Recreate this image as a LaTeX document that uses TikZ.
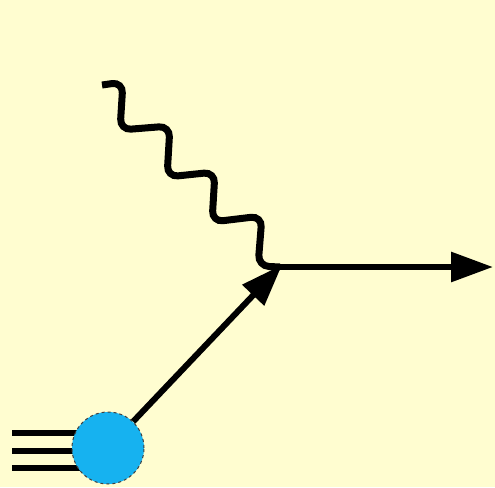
\documentclass[tikz,border=0pt]{standalone}
\usetikzlibrary{arrows.meta}
\definecolor{bgyellow}{RGB}{255,253,208}
\definecolor{blobcyan}{RGB}{22,178,240}
\begin{document}
\begin{tikzpicture}[x=1pt,y=-1pt,
  fermion/.style={line width=6pt,-{Triangle[length=42pt,width=29pt]}},
  photon/.style={line width=7pt,rounded corners=11pt},
  beam/.style={line width=6.5pt},
  blobstyle/.style={circle,minimum size=72pt,inner sep=0pt,fill=blobcyan,draw=black!75,dashed,line width=1pt}]
\fill[bgyellow] (0,0) rectangle (495,487);
\useasboundingbox (0,0) rectangle (495,487);
\coordinate (v) at (280,267);
\coordinate (p) at (102,85);
\coordinate (out) at (493,267);
\coordinate (l1) at (12,433);
\coordinate (l2) at (12,451);
\coordinate (l3) at (12,468);
\coordinate (r1) at (90,433);
\coordinate (r2) at (90,451);
\coordinate (r3) at (90,468);
\draw[beam] (l1) -- (r1);
\draw[beam] (l2) -- (r2);
\draw[beam] (l3) -- (r3);
\node[blobstyle] (blob) at (108,448) {};
\draw[photon] (p) -- (123,82) -- (120,130) -- (170,126) -- (167,177) -- (215,172) -- (212,222) -- (262,216) -- (258,266) -- (v);
\draw[fermion] (v) -- (out);
\draw[fermion,shorten >=-3pt] (blob) -- (v);
\end{tikzpicture}
\end{document}
